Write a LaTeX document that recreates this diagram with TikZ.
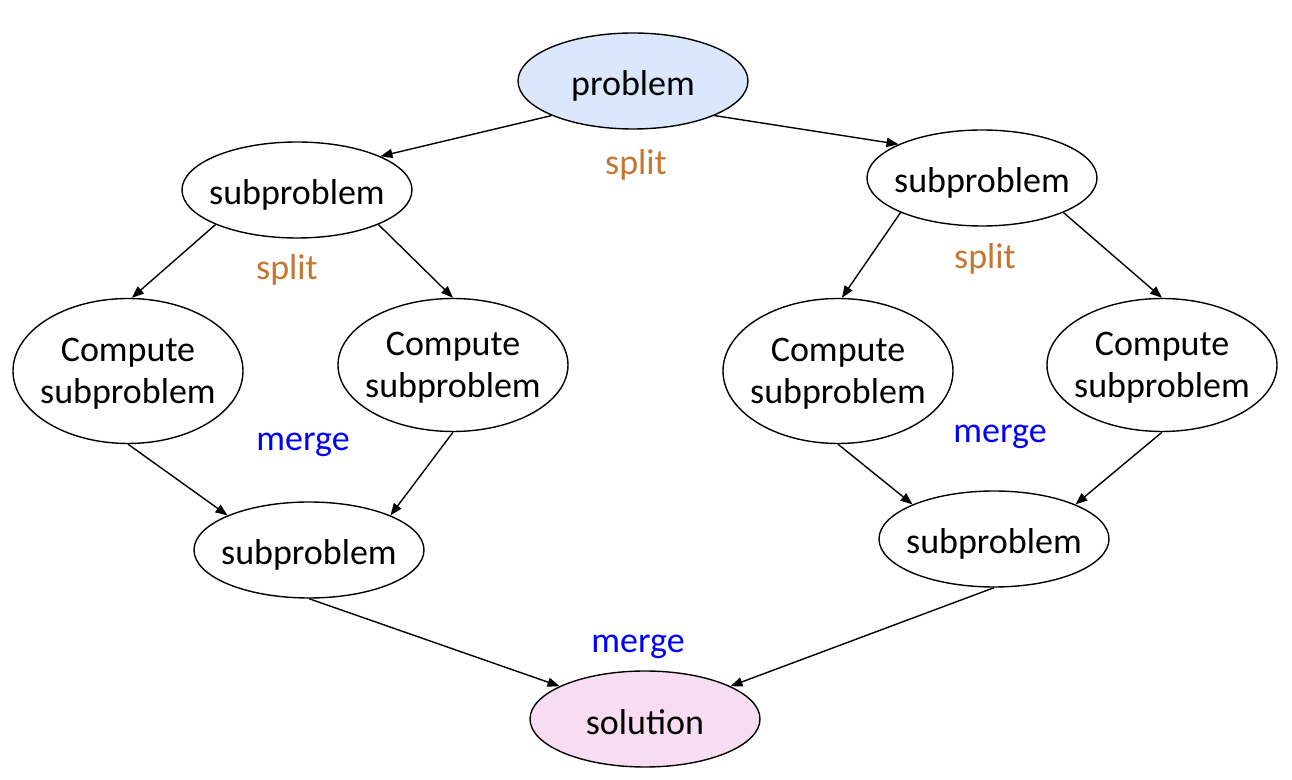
\documentclass[tikz,border=0pt]{standalone}
\usepackage{fontspec}
\setmainfont{Carlito}
\usetikzlibrary{shapes.geometric,arrows.meta}
\definecolor{splitc}{RGB}{197,118,48}
\definecolor{mergec}{RGB}{0,0,255}
\definecolor{probfill}{RGB}{218,231,252}
\definecolor{solfill}{RGB}{248,221,242}
\begin{document}
\begin{tikzpicture}[x=0.5pt,y=-0.5pt,
  ell/.style={ellipse,draw=black,line width=0.7pt,minimum width=115pt,minimum height=48pt,inner sep=0pt},
  tall/.style={ell,minimum height=72.5pt},
  midh/.style={ell,minimum height=66.5pt},
  txt/.style={font=\fontsize{18}{21}\selectfont,align=center,inner sep=0pt,text=black},
  lab/.style={font=\fontsize{18}{21}\selectfont,inner sep=0pt},
  arr/.style={-{Triangle[length=6pt,width=4.6pt]},line width=0.7pt}]
\useasboundingbox (0,0) rectangle (1292,780);

\node[ell,fill=probfill,label={[txt,yshift=-2.5pt]center:problem}] (problem) at (633,81) {};
\node[ell,label={[txt,yshift=-2.5pt]center:subproblem}] (L1) at (297,190) {};
\node[ell,label={[txt,yshift=-2.5pt]center:subproblem}] (R1) at (982,178) {};
\node[tall,label={[txt,yshift=-1.5pt]center:{Compute\\subproblem}}] (La) at (128,371) {};
\node[midh,label={[txt,yshift=-1.5pt]center:{Compute\\subproblem}}] (Lb) at (453,365) {};
\node[tall,label={[txt,yshift=-1.5pt]center:{Compute\\subproblem}}] (Ra) at (838,371) {};
\node[midh,label={[txt,yshift=-1.5pt]center:{Compute\\subproblem}}] (Rb) at (1162,365) {};
\node[ell,label={[txt,yshift=-2.5pt]center:subproblem}] (L2) at (309,550) {};
\node[ell,label={[txt,yshift=-2.5pt]center:subproblem}] (R2) at (994,539) {};
\node[ell,fill=solfill,label={[txt,yshift=-1.5pt]center:solution}] (sol) at (645,719) {};

\node[lab,text=splitc] (s1) at (636,165) {split};
\node[lab,text=splitc] (s2) at (287,270) {split};
\node[lab,text=splitc] (s3) at (985,259) {split};
\node[lab,text=mergec] (m1) at (303,445) {merge};
\node[lab,text=mergec] (m2) at (1000,437) {merge};
\node[lab,text=mergec] (m3) at (638,647) {merge};

\draw[arr] (problem.203) -- (L1.22);
\draw[arr] (problem.337) -- (R1.158);
\draw[arr] (L1.203) -- (La.87);
\draw[arr] (L1.337) -- (Lb.90);
\draw[arr] (R1.203) -- (Ra.87);
\draw[arr] (R1.337) -- (Rb.90);
\draw[arr] (La.270) -- (L2.157);
\draw[arr] (Lb.270) -- (L2.23);
\draw[arr] (Ra.270) -- (R2.157);
\draw[arr] (Rb.270) -- (R2.23);
\draw[arr] (L2.south) -- (sol.159);
\draw[arr] (R2.south) -- (sol.21);
\end{tikzpicture}
\end{document}
